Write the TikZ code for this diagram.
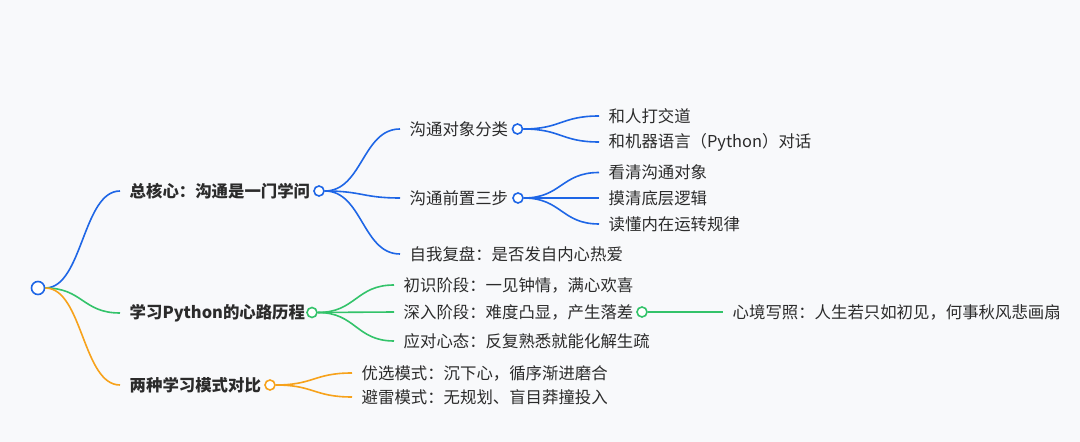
\documentclass[tikz,border=0pt]{standalone}
\usepackage{fontspec}
\setmainfont{Noto Sans CJK SC}
\usetikzlibrary{calc}
\definecolor{bgc}{HTML}{F8F9FB}
\definecolor{bl}{HTML}{1E66E6}
\definecolor{gr}{HTML}{33C36A}
\definecolor{og}{HTML}{F7A21B}
\definecolor{txt}{HTML}{2B2B2B}
\begin{document}
\begin{tikzpicture}[x=1bp,y=-1bp,
  lbl/.style={anchor=west,inner xsep=9.5bp,inner ysep=0pt,text=txt,font=\fontsize{16.4bp}{20bp}\selectfont},
  lblb/.style={lbl,font=\fontsize{16.4bp}{20bp}\selectfont\bfseries},
  dot/.style={circle,draw,fill=white,line width=1.6bp,minimum size=10bp,inner sep=0pt},
  rootdot/.style={dot,minimum size=13bp},
  branch/.style={line width=1.6bp,to path={let \p1=(\tikztostart), \p2=(\tikztotarget) in
     (\p1) .. controls (\x1/2+\x2/2,\y1) and (\x1/2+\x2/2,\y2) .. (\p2)}}
]
\fill[bgc] (0,0) rectangle (1080,442);
\useasboundingbox (0,0) rectangle (1080,442);

% text nodes
\node[lblb] (t1) at (120,191) {总核心：沟通是一门学问};
\node[lblb] (t2) at (120,313) {学习Python的心路历程};
\node[lblb] (t3) at (120,385) {两种学习模式对比};

\node[lbl] (a1) at (400,129) {沟通对象分类};
\node[lbl] (a2) at (400,198) {沟通前置三步};
\node[lbl] (a3) at (400,254) {自我复盘：是否发自内心热爱};

\node[lbl] (b1) at (599,116) {和人打交道};
\node[lbl] (b2) at (599,142) {和机器语言（Python）对话};
\node[lbl] (b3) at (599,172.5) {看清沟通对象};
\node[lbl] (b4) at (599,198) {摸清底层逻辑};
\node[lbl] (b5) at (599,224) {读懂内在运转规律};

\node[lbl] (g1) at (394,285) {初识阶段：一见钟情，满心欢喜};
\node[lbl] (g2) at (394,312) {深入阶段：难度凸显，产生落差};
\node[lbl] (g3) at (394,341) {应对心态：反复熟悉就能化解生疏};
\node[lbl] (g4) at (723,312) {心境写照：人生若只如初见，何事秋风悲画扇};

\node[lbl] (o1) at (352,373) {优选模式：沉下心，循序渐进磨合};
\node[lbl] (o2) at (352,397) {避雷模式：无规划、盲目莽撞投入};

% circles
\node[rootdot,draw=bl] (r) at (38,288) {};
\node[dot,draw=bl] (c1) at (319,191) {};
\node[dot,draw=gr] (c2) at (312,312.5) {};
\node[dot,draw=og] (c3) at (270,385) {};
\node[dot,draw=bl] (ca1) at (517.5,129) {};
\node[dot,draw=bl] (ca2) at (518,198) {};
\node[dot,draw=gr] (cg2) at (642,312) {};

% connectors
\draw[bl,branch] (r.east) to (t1.west);
\draw[gr,branch] (r.east) to (t2.west);
\draw[og,branch] (r.east) to (t3.west);

\draw[bl,branch] (c1.east) to (a1.west);
\draw[bl,branch] (c1.east) to (a2.west);
\draw[bl,branch] (c1.east) to (a3.west);

\draw[bl,branch] (ca1.east) to (b1.west);
\draw[bl,branch] (ca1.east) to (b2.west);
\draw[bl,branch] (ca2.east) to (b3.west);
\draw[bl,branch] (ca2.east) to (b4.west);
\draw[bl,branch] (ca2.east) to (b5.west);

\draw[gr,branch] (c2.east) to (g1.west);
\draw[gr,branch] (c2.east) to (g2.west);
\draw[gr,branch] (c2.east) to (g3.west);
\draw[gr,branch] (cg2.east) to (g4.west);

\draw[og,branch] (c3.east) to (o1.west);
\draw[og,branch] (c3.east) to (o2.west);
\end{tikzpicture}
\end{document}
